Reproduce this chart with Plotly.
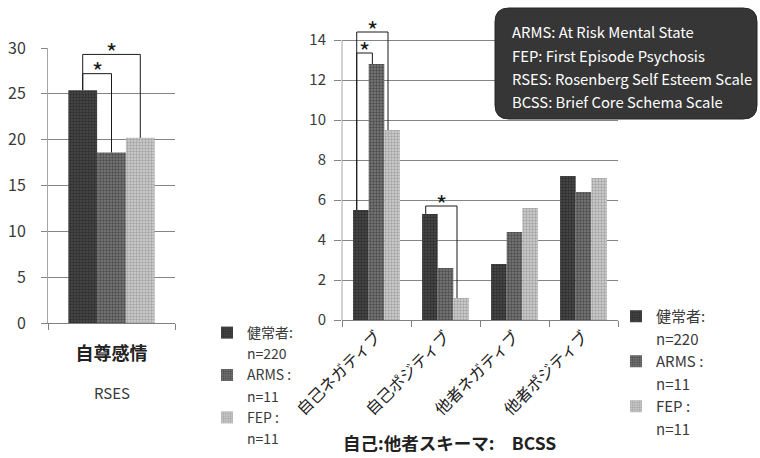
import plotly.graph_objects as go

# ---------------- data ----------------
groups = ["健常者:", "ARMS :", "FEP :"]
group_n = ["n=220", "n=11", "n=11"]

rses_categories = ["自尊感情"]
rses_values = [[25.4], [18.6], [20.2]]          # per group

bcss_categories = ["自己ネガティブ", "自己ポジティブ", "他者ネガティブ", "他者ポジティブ"]
bcss_values = [
    [5.5, 5.3, 2.8, 7.2],    # 健常者
    [12.8, 2.6, 4.4, 6.4],   # ARMS
    [9.5, 1.1, 5.6, 7.1],    # FEP
]

# significance brackets: (category index, group from, group to, bracket top value)
rses_sig = [(0, 0, 1, 27.2), (0, 0, 2, 29.3)]
bcss_sig = [(0, 0, 1, 13.35), (0, 0, 2, 14.4), (1, 0, 2, 5.7)]

box_lines = [
    "ARMS: At Risk Mental State",
    "FEP: First Episode Psychosis",
    "RSES: Rosenberg Self Esteem Scale",
    "BCSS: Brief Core Schema Scale",
]

# ---------------- style ----------------
W, H = 760, 458
FONT = "Noto Sans CJK JP"
TXT = "#3a3a3a"
GRID = "#858585"
BARGAP = 0.32
patterns = [
    dict(shape=".", bgcolor="#4a4a4a", fgcolor="#111111", size=3, solidity=0.5),
    dict(shape=".", bgcolor="#7a7a7a", fgcolor="#222222", size=3, solidity=0.5),
    dict(shape=".", bgcolor="#d0d0d0", fgcolor="#7a7a7a", size=3, solidity=0.5),
]


def px_x(px):
    return px / W


def px_y(py):
    return 1 - py / H


fig = go.Figure()

for legend_id, xa, ya, cats, vals in [
    ("legend", "x", "y", rses_categories, rses_values),
    ("legend2", "x2", "y2", bcss_categories, bcss_values),
]:
    for g in range(3):
        fig.add_trace(go.Bar(
            x=cats, y=vals[g], name=groups[g], xaxis=xa, yaxis=ya,
            legend=legend_id, marker=dict(color=patterns[g]["bgcolor"], pattern=patterns[g],
                                          line=dict(width=0)),
            hoverinfo="skip",
        ))
        fig.add_trace(go.Scatter(
            x=[None], y=[None], name=group_n[g], xaxis=xa, yaxis=ya, legend=legend_id,
            mode="markers", marker=dict(opacity=0, size=1, color="rgba(0,0,0,0)",
                                        line=dict(width=0)),
            hoverinfo="skip",
        ))

# ---------------- significance brackets ----------------
bw = (1 - BARGAP) / 3
shapes = []
annotations = []


def bracket(sig, vals, xref, yref, shift, star_size):
    for cat, ga, gb, top in sig:
        xa = cat + (ga - 1) * bw + shift
        xb = cat + (gb - 1) * bw + shift
        ya = vals[ga][cat]
        yb = vals[gb][cat]
        line = dict(color="#1a1a1a", width=1)
        shapes.append(dict(type="line", xref=xref, yref=yref, x0=xa, x1=xa, y0=ya, y1=top, line=line))
        shapes.append(dict(type="line", xref=xref, yref=yref, x0=xa, x1=xb, y0=top, y1=top, line=line))
        shapes.append(dict(type="line", xref=xref, yref=yref, x0=xb, x1=xb, y0=top, y1=yb, line=line))
        annotations.append(dict(xref=xref, yref=yref, x=(xa + xb) / 2, y=top, text="*",
                                showarrow=False, yanchor="middle", yshift=3,
                                font=dict(size=star_size, color="#1a1a1a", family=FONT)))


bracket(rses_sig, rses_values, "x", "y", 0.0, 24)
bracket(bcss_sig, bcss_values, "x2", "y2", -0.06, 24)

# right y-axis line (only up to 14)
shapes.append(dict(type="line", xref="x2 domain", yref="y2", x0=0, x1=0, y0=0, y1=14,
                   line=dict(color="#a6a6a6", width=1)))

# rounded info box
x0, x1, y0, y1, r = 495, 757, 8, 119, 14
rx, ry = r / W, r / H
X0, X1, Y0, Y1 = px_x(x0), px_x(x1), px_y(y0), px_y(y1)
path = (f"M {X0+rx},{Y0} L {X1-rx},{Y0} Q {X1},{Y0} {X1},{Y0-ry} "
        f"L {X1},{Y1+ry} Q {X1},{Y1} {X1-rx},{Y1} L {X0+rx},{Y1} "
        f"Q {X0},{Y1} {X0},{Y1+ry} L {X0},{Y0-ry} Q {X0},{Y0} {X0+rx},{Y0} Z")
shapes.append(dict(type="path", xref="paper", yref="paper", path=path,
                   fillcolor="#363636", line=dict(color="#262626", width=1), layer="above"))

for i, t in enumerate(box_lines):
    annotations.append(dict(xref="paper", yref="paper", x=px_x(510), y=px_y(32 + 23 * i),
                            xanchor="left", yanchor="middle", showarrow=False, text=t,
                            font=dict(size=14.8, color="white", family=FONT)))

annotations.append(dict(xref="x", yref="paper", x=0, y=px_y(392), text="RSES", showarrow=False,
                        xanchor="center", yanchor="middle", font=dict(size=15, color=TXT, family=FONT)))
annotations.append(dict(xref="paper", yref="paper", x=px_x(449), y=px_y(442),
                        text="<b>自己:他者スキーマ:　BCSS</b>", showarrow=False,
                        xanchor="center", yanchor="middle", font=dict(size=17.5, color="#222", family=FONT)))

fig.update_layout(
    width=W, height=H, margin=dict(l=0, r=0, t=0, b=0, autoexpand=False),
    paper_bgcolor="white", plot_bgcolor="white",
    font=dict(family=FONT, color=TXT),
    barmode="group", bargap=BARGAP, bargroupgap=0,
    showlegend=True,
    legend=dict(x=px_x(207), y=px_y(317), xanchor="left", yanchor="top",
                font=dict(size=14, color=TXT), traceorder="normal", bgcolor="rgba(0,0,0,0)"),
    legend2=dict(x=px_x(616), y=px_y(300), xanchor="left", yanchor="top",
                 font=dict(size=15, color=TXT), traceorder="normal", bgcolor="rgba(0,0,0,0)"),
    xaxis=dict(domain=[px_x(48), px_x(175)], anchor="y", type="category", automargin=False,
               tickvals=rses_categories, ticktext=[f"<b>{c}</b>" for c in rses_categories],
               tickfont=dict(size=18, color="#222"), ticks="outside", tickson="boundaries",
               ticklen=6, tickcolor="#808080", showline=True, linecolor="#808080",
               ticklabelstandoff=14, range=[-0.5, 0.5]),
    yaxis=dict(domain=[px_y(323), px_y(48)], anchor="x", range=[0, 30], dtick=5, automargin=False,
               showgrid=True, gridcolor=GRID, ticks="outside", ticklen=6, tickcolor=GRID,
               showline=True, linecolor="#a6a6a6", zeroline=False,
               tickfont=dict(size=16, color=TXT), ticklabelstandoff=12),
    xaxis2=dict(domain=[px_x(342), px_x(618)], anchor="y2", type="category", automargin=False,
                tickangle=-45, tickfont=dict(size=16, color="#222"), ticks="outside",
                tickson="boundaries", ticklen=6, tickcolor="#808080", showline=True,
                linecolor="#808080", range=[-0.5, 3.5]),
    yaxis2=dict(domain=[px_y(320), px_y(30)], anchor="x2", range=[0, 14.5], automargin=False,
                tickvals=list(range(0, 15, 2)), showgrid=True, gridcolor=GRID,
                ticks="outside", ticklen=7, tickcolor=GRID, showline=False, zeroline=False,
                tickfont=dict(size=15, color=TXT), ticklabelstandoff=5),
    shapes=shapes, annotations=annotations,
)

fig.write_html("out.html", config={"displayModeBar": False},
               post_script="document.body.style.margin='0';")
